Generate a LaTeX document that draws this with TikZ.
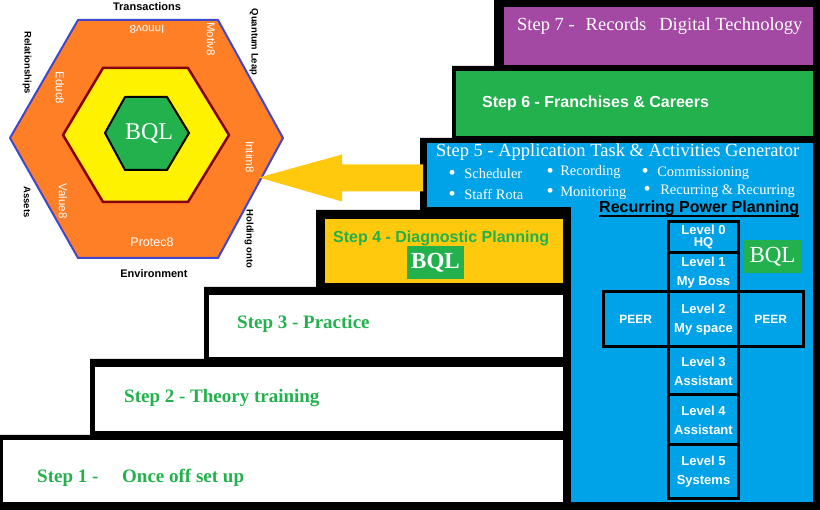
\documentclass[tikz,border=0pt]{standalone}
\usepackage{fontspec}
\setmainfont{Liberation Serif}
\setsansfont{Liberation Sans}
\definecolor{hexorange}{HTML}{FF7F27}
\definecolor{hexyellow}{HTML}{FFF200}
\definecolor{hexedge}{HTML}{3F48CC}
\definecolor{ringedge}{HTML}{880015}
\definecolor{bqlgreen}{HTML}{22B14C}
\definecolor{stepviolet}{HTML}{A349A4}
\definecolor{stepblue}{HTML}{00A2E8}
\definecolor{stepgold}{HTML}{FFC90E}
\newcommand{\bigdot}{\raisebox{-1.2pt}{\scalebox{1.4}{\textbullet}}}
\begin{document}
\begin{tikzpicture}[line cap=round, line join=round, x=1pt, y=-1pt,
            stepbox/.style={anchor=north west, inner sep=0pt, outer sep=0pt},
            steplabel/.style={anchor=west, inner sep=0pt, text=white, font=\fontsize{18.5}{22}\selectfont},
            stepgreen/.style={anchor=west, inner sep=0pt, text=bqlgreen, font=\bfseries\fontsize{19}{22}\selectfont},
            bulletitem/.style={anchor=west, inner sep=0pt, text=white, font=\fontsize{14.5}{17}\selectfont},
            outerword/.style={inner sep=0pt, font=\sffamily\bfseries\fontsize{9.5}{11}\selectfont},
            innerword/.style={inner sep=0pt, text=white, font=\sffamily\fontsize{11.5}{13}\selectfont},
            levelbox/.style={draw, line width=3pt, line join=miter, fill=stepblue, text=white, align=center, inner sep=0pt, font=\sffamily\bfseries\fontsize{13}{19}\selectfont},
            bqlbox/.style={fill=bqlgreen, text=white, inner sep=0pt, font=\fontsize{23}{26}\selectfont}]

            \useasboundingbox (0,0) rectangle (820,510);
            \fill[white] (0,0) rectangle (820,510);
            \fill (0,510) -- (0,435) -- (90,435) -- (90,359) -- (204,359) -- (204,287) -- (316,287) -- (316,210) -- (420,210) -- (420,138) -- (452,138) -- (452,66) -- (494,66) -- (494,0) -- (820,0) -- (820,510) -- cycle;

            \node[stepbox, fill=stepviolet, minimum width=309pt, minimum height=58pt] (s7) at (504,7) {};
            \node[stepbox, fill=bqlgreen, minimum width=357pt, minimum height=65pt] (s6) at (456,71) {};
            \node[stepbox, fill=stepblue, minimum width=386pt, minimum height=64pt] (s5) at (427,143) {};
            \node[stepbox, fill=stepblue, minimum width=242pt, minimum height=302pt] (s5col) at (571,200) {};
            \node[stepbox, fill=stepgold, minimum width=238pt, minimum height=64pt] (s4) at (325,219) {};
            \node[stepbox, fill=white, minimum width=354pt, minimum height=62pt] (s3) at (209,295) {};
            \node[stepbox, fill=white, minimum width=468pt, minimum height=64pt] (s2) at (95,367) {};
            \node[stepbox, fill=white, minimum width=560pt, minimum height=62pt] (s1) at (3,440) {};

            \node[steplabel] (t7) at (517,26) {Step 7 -\hspace{11pt}Records\hspace{13pt}Digital Technology};
            \node[steplabel, font=\sffamily\bfseries\fontsize{16}{19}\selectfont] (t6) at (482,103) {Step 6 - Franchises \& Careers};
            \node[steplabel] (t5) at (436,152) {Step 5 - Application Task \& Activities Generator};
            \node[bulletitem] (b1) at (448.5,174) {\bigdot\hspace{8.5pt}Scheduler};
            \node[bulletitem] (b2) at (448.5,195) {\bigdot\hspace{8.5pt}Staff Rota};
            \node[bulletitem] (b3) at (546.5,172.5) {\bigdot\hspace{6.5pt}Recording};
            \node[bulletitem] (b4) at (546.5,193) {\bigdot\hspace{6.5pt}Monitoring};
            \node[bulletitem] (b5) at (641.5,173.5) {\bigdot\hspace{8.5pt}Commissioning};
            \node[bulletitem] (b6) at (643.5,191.5) {\bigdot\hspace{9.5pt}Recurring \& Recurring};
            \node[stepgreen, font=\sffamily\bfseries\fontsize{16}{19}\selectfont] (t4) at (333,238) {Step 4 - Diagnostic Planning};
            \node[bqlbox, minimum width=57pt, minimum height=33pt, font=\bfseries\fontsize{23}{26}\selectfont] (bqlstep) at (435.5,262.5) {BQL};
            \node[stepgreen] (t3) at (237,324) {Step 3 - Practice};
            \node[stepgreen] (t2) at (124,398) {Step 2 - Theory training};
            \node[stepgreen] (t1) at (37,478) {Step 1 -};
            \node[stepgreen] (t1b) at (122,478) {Once off set up};

            \node[anchor=base west, inner sep=0pt, font=\sffamily\bfseries\fontsize{16}{19}\selectfont] (rpp) at (599,213) {Recurring Power Planning};
            \draw[line width=1.5pt, line cap=butt] ([yshift=-3pt]rpp.base west) -- ([yshift=-3pt]rpp.base east);
            \node[levelbox, minimum width=70pt, minimum height=31pt] (l0) at (703.5,237.5) {Level 0\\[-7pt]HQ};
            \node[levelbox, minimum width=70pt, minimum height=39pt] (l1) at (703.5,272.5) {Level 1\\My Boss};
            \node[levelbox, minimum width=65.5pt, minimum height=55pt, font=\sffamily\bfseries\fontsize{12}{14}\selectfont] (peerl) at (635.75,319.5) {PEER};
            \node[levelbox, minimum width=70pt, minimum height=55pt] (l2) at (703.5,319.5) {Level 2\\My space};
            \node[levelbox, minimum width=64.5pt, minimum height=55pt, font=\sffamily\bfseries\fontsize{12}{14}\selectfont] (peerr) at (770.75,319.5) {PEER};
            \node[levelbox, minimum width=70pt, minimum height=48pt] (l3) at (703.5,371) {Level 3\\Assistant};
            \node[levelbox, minimum width=70pt, minimum height=50pt] (l4) at (703.5,420) {Level 4\\Assistant};
            \node[levelbox, minimum width=70pt, minimum height=54pt] (l5) at (703.5,472) {Level 5\\Systems};
            \node[bqlbox, minimum width=57pt, minimum height=33pt] (bqlside) at (772.5,256.5) {BQL};

            \filldraw[fill=hexorange, draw=hexedge, line width=2pt] (78,20) -- (218,20) -- (283,138) -- (218,258) -- (78,258) -- (10,138) -- cycle;
            \filldraw[fill=hexyellow, draw=ringedge, line width=2.5pt] (103,68) -- (188,68) -- (229,135) -- (188,202) -- (103,202) -- (63,135) -- cycle;
            \filldraw[fill=bqlgreen, draw=black, line width=2pt] (125,97) -- (167,97) -- (189,133) -- (167,170) -- (125,170) -- (105,133) -- cycle;
            \node[inner sep=0pt, text=white, font=\fontsize{24}{28}\selectfont] (bqlhex) at (149,134) {BQL};

            \node[outerword, font=\sffamily\bfseries\fontsize{11}{13}\selectfont] (transactions) at (147,7) {Transactions};
            \node[outerword, rotate=-90] (quantum) at (254,42) {Quantum Leap};
            \node[outerword, rotate=-90] (relations) at (27,63) {Relationships};
            \node[outerword, rotate=-90] (assets) at (27,202) {Assets};
            \node[outerword, rotate=-90] (holding) at (249,239) {Holding onto};
            \node[outerword, font=\sffamily\bfseries\fontsize{11}{13}\selectfont] (environment) at (154,274) {Environment};

            \node[innerword, rotate=180] (innov) at (147,29) {Innov8};
            \node[innerword, rotate=-90] (motiv) at (211,39) {Motiv8};
            \node[innerword, rotate=-90] (educ) at (60,88) {Educ8};
            \node[innerword, rotate=-90] (intim) at (250,157) {Intim8};
            \node[innerword, rotate=-90] (value) at (63,201) {Value8};
            \node[innerword, font=\sffamily\fontsize{12.5}{14}\selectfont] (protec) at (152,242) {Protec8};

            \coordinate (tip) at (259,177.5);
            \fill[stepgold] (tip) -- ++(83,-23) -- ++(0,10) -- ++(81,0) -- ++(0,27) -- ++(-81,0) -- ++(0,10) -- cycle;

        \end{tikzpicture}
\end{document}
